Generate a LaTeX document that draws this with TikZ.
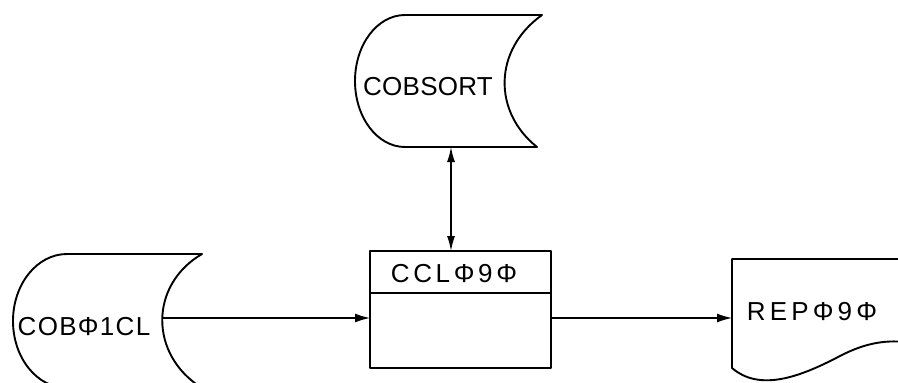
\documentclass[tikz,border=0pt]{standalone}
\usepackage{fontspec}
\setmainfont{Liberation Sans}
\usetikzlibrary{arrows.meta}
\begin{document}
\begin{tikzpicture}[x=1pt,y=-1pt,
  outline/.style={line width=1.9pt,line join=round},
  conn/.style={line width=1.4pt,-{Latex[length=15pt,width=9pt]}},
  lbl/.style={font=\fontsize{26}{26}\selectfont,inner sep=0pt}]
\useasboundingbox (0,0) rectangle (898,383);
\clip (0,0) rectangle (898,383);
% COBSORT (online storage)
\draw[outline] (405,15) -- (542,15)
  .. controls (493,50) and (493,112) .. (537,147) -- (405,147)
  arc[start angle=90,end angle=270,x radius=50,y radius=66] -- cycle;
\node[lbl] (sort) at (428,87) {\addfontfeatures{LetterSpace=1}COBSORT};
\coordinate (sortB) at (451,147);
% COB01CL (online storage)
\draw[outline] (67,254) -- (202,254)
  .. controls (149,285) and (149,355) .. (202,388) -- (67,388)
  arc[start angle=90,end angle=270,x radius=54,y radius=67] -- cycle;
\node[lbl] (cob) at (84,327) {\addfontfeatures{LetterSpace=5}COBΦ1CL};
\coordinate (cobR) at (162,318);
% CCL090 process box
\node[draw,outline,minimum width=181pt,minimum height=117pt,inner sep=0pt] (ccl) at (460.5,309.5) {};
\draw[outline] (370,293) -- (551,293);
\node[lbl] (ccltxt) at (454,274) {\addfontfeatures{LetterSpace=14}CCLΦ9Φ};
\coordinate (cclL) at (370,318);
\coordinate (cclR) at (551,318);
\coordinate (cclT) at (451,251);
% REP090 document
\draw[outline] (905,259) -- (732,259) -- (732,368)
  .. controls (760,392) and (800,377) .. (840,356)
  .. controls (865,343) and (885,340) .. (905,342);
\node[lbl] (rep) at (812,312) {\addfontfeatures{LetterSpace=16}REPΦ9Φ};
\coordinate (repL) at (732,318);
% connectors
\draw[conn] (cobR) -- (cclL);
\draw[conn] (cclR) -- (repL);
\draw[line width=1.4pt,{Latex[length=15pt,width=8pt]}-{Latex[length=15pt,width=8pt]}] (sortB) -- (cclT);
\end{tikzpicture}
\end{document}
